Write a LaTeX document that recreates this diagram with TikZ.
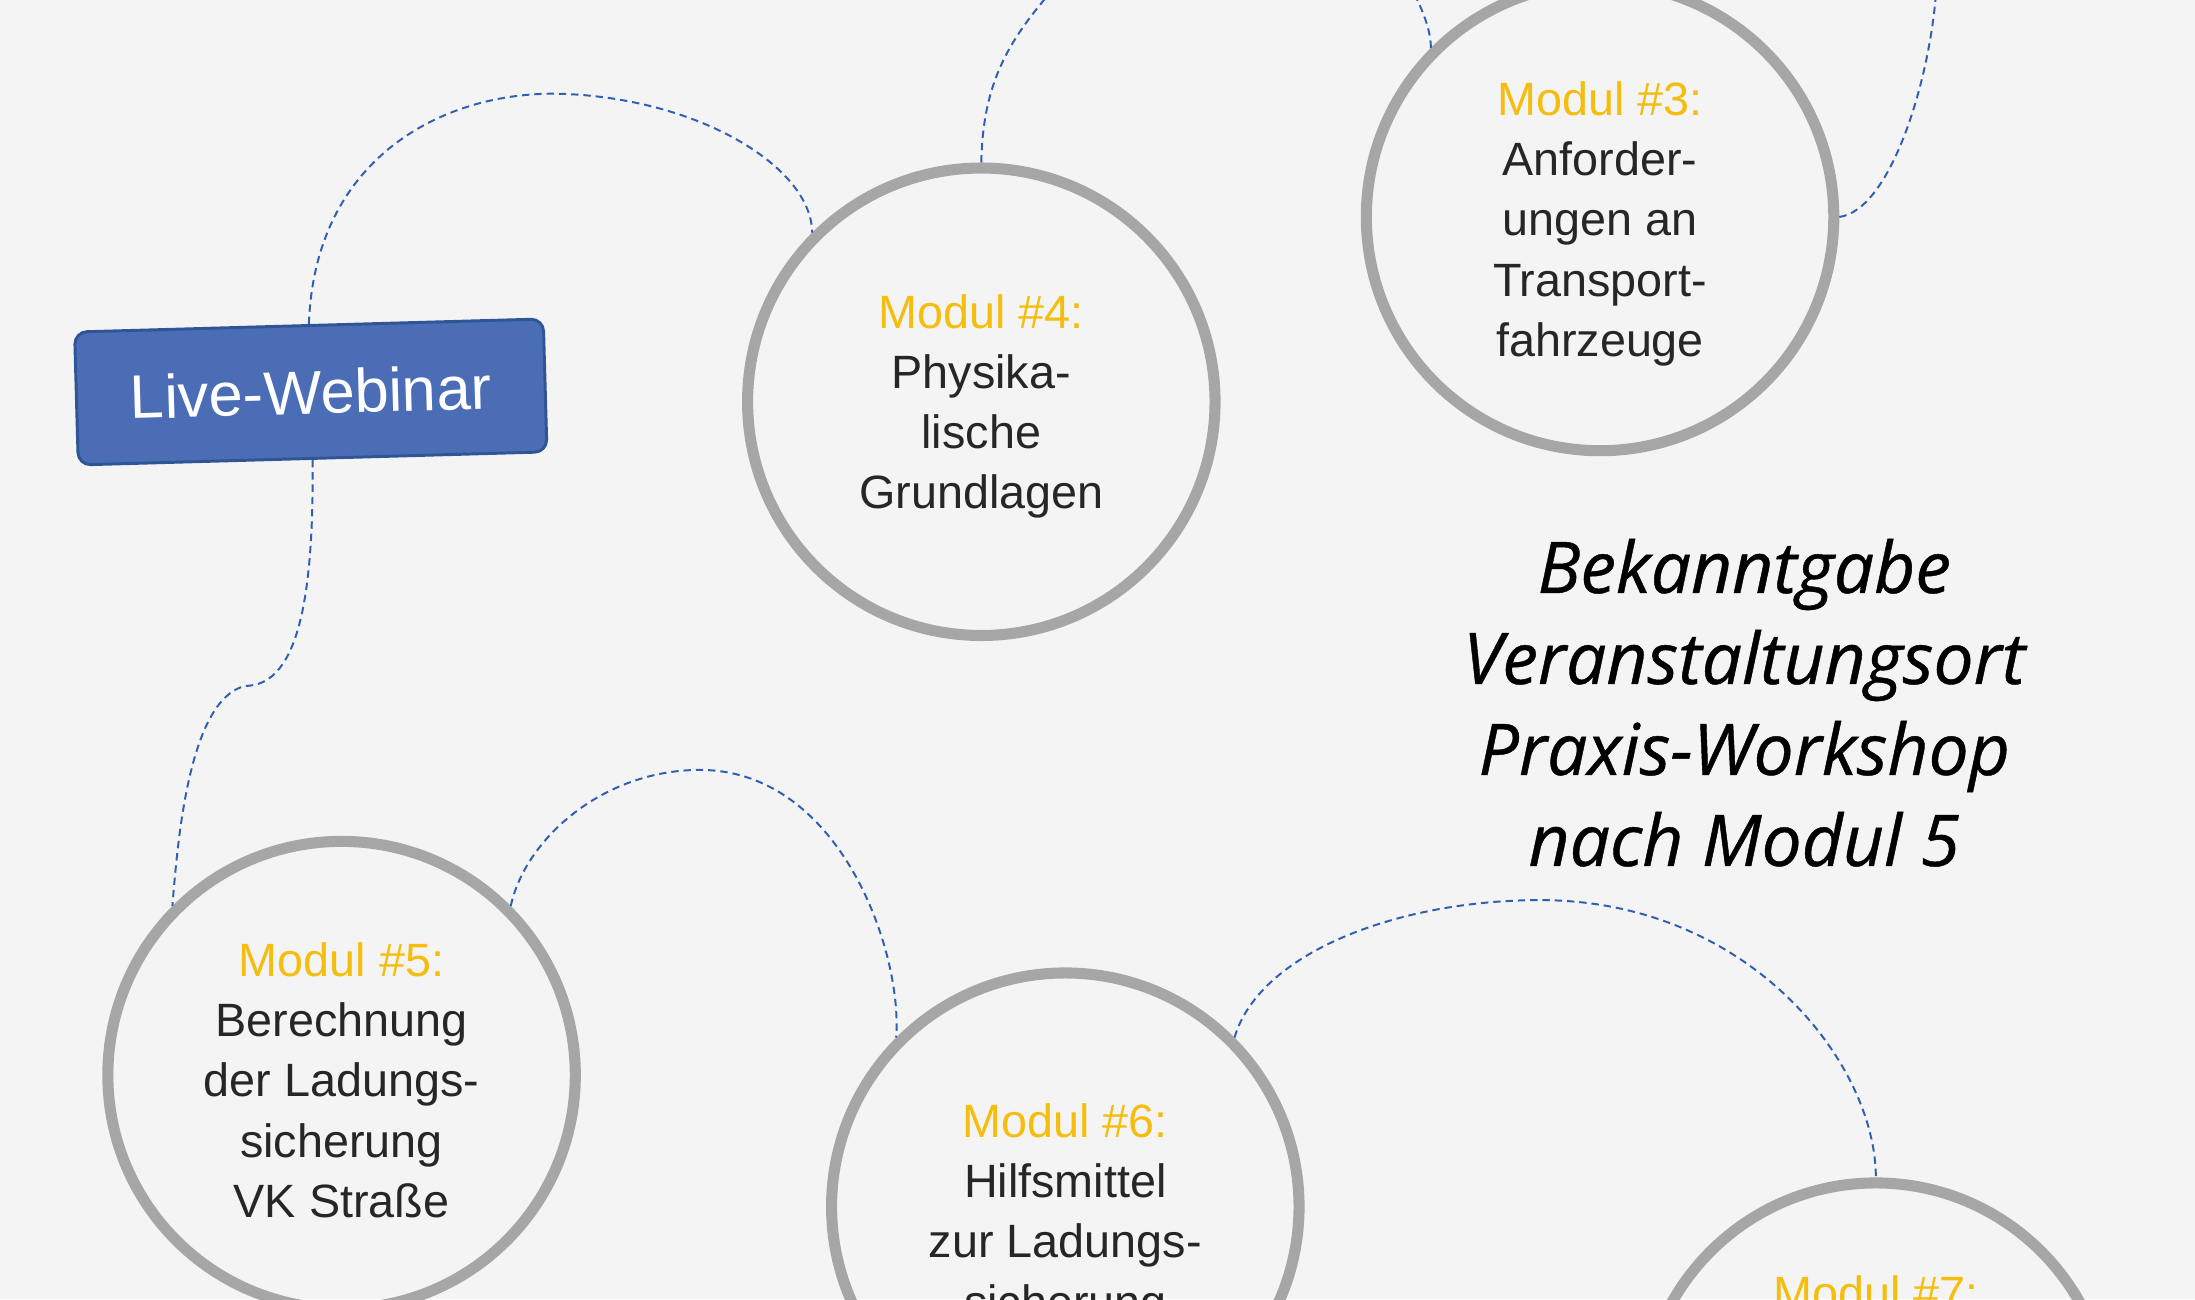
\documentclass[tikz,border=0pt]{standalone}
\usepackage{fontspec}
\setmainfont{Liberation Sans}
\newfontfamily\titlefont[FakeBold=0.6]{Open Sans}
\definecolor{bg}{HTML}{F4F4F4}
\definecolor{ring}{HTML}{A6A6A6}
\definecolor{gold}{HTML}{F5BE0F}
\definecolor{boxblue}{HTML}{4A6DB5}
\definecolor{boxedge}{HTML}{2F5597}
\definecolor{dash}{HTML}{2F5FB0}
\begin{document}
\begin{tikzpicture}[x=0.02cm,y=-0.02cm,
  ring/.style={circle,draw=ring,line width=4.5pt,minimum size=6.68cm,inner sep=0pt},
  modtext/.style={align=center,font=\fontsize{19}{24.5}\selectfont,text=black!85},
  conn/.style={draw=dash,dashed,line width=0.8pt,dash pattern=on 3pt off 2pt}]
\fill[bg] (0,0) rectangle (1568,928);
\useasboundingbox (0,0) rectangle (1568,928);
\clip (0,0) rectangle (1568,928);
\node[ring] (c4) at (701,287) {};
\node[ring] (c3) at (1143,155) {};
\node[ring] (c5) at (244,768) {};
\node[ring] (c6) at (761,862) {};
\node[ring] (c7) at (1340,1012) {};
\node[modtext,anchor=north] (t4) at (701,204) {\textcolor{gold}{Modul \#4:}\\Physika-\\lische\\Grundlagen};
\node[modtext,anchor=north] (t3) at (1143,52) {\textcolor{gold}{Modul \#3:}\\Anforder-\\ungen an\\Transport-\\fahrzeuge};
\node[modtext,anchor=north] (t5) at (244,667) {\textcolor{gold}{Modul \#5:}\\Berechnung\\der Ladungs-\\sicherung\\VK Straße};
\node[modtext,anchor=north] (t6) at (761,782) {\textcolor{gold}{Modul \#6:}\\Hilfsmittel\\zur Ladungs-\\sicherung};
\node[modtext,anchor=north] (t7) at (1340,905) {\textcolor{gold}{Modul \#7:}};
\node[rounded corners=5pt,fill=boxblue,draw=boxedge,line width=1.2pt,rotate=1.6,
  minimum width=6.7cm,minimum height=1.9cm,text=white,font=\fontsize{25}{30}\selectfont] (box) at (222,280) {Live-Webinar};
\node[align=center,font=\titlefont\itshape\fontsize{29}{37}\selectfont] (title) at (1246,502)
  {Bekanntgabe\\Veranstaltungsort\\Praxis-Workshop\\nach Modul 5};
\coordinate (e1) at (750,-5);
\coordinate (e2) at (1010,-5);
\coordinate (e3) at (1383,-5);
\path[conn] (box.north) .. controls (225,110) and (320,65) .. (400,67) .. controls (500,70) and (580,120) .. (c4.135);
\path[conn] (box.south) .. controls (224,420) and (215,490) .. (175,490) .. controls (135,500) and (127,600) .. (c5.135);
\path[conn] (c4.90) .. controls (702,60) and (720,30) .. (e1);
\path[conn] (c3.135) .. controls (1022,20) and (1015,5) .. (e2);
\path[conn] (c3.0) .. controls (1350,150) and (1378,60) .. (e3);
\path[conn] (c5.45) .. controls (375,600) and (430,550) .. (500,550) .. controls (600,550) and (645,680) .. (c6.135);
\path[conn] (c6.45) .. controls (900,680) and (1000,643) .. (1100,643) .. controls (1250,643) and (1340,760) .. (c7.90);
\end{tikzpicture}
\end{document}
